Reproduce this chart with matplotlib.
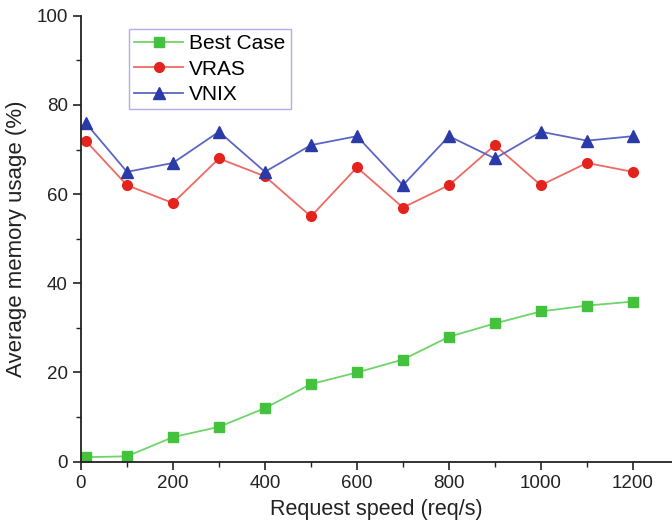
import matplotlib
matplotlib.use("Agg")
import matplotlib.pyplot as plt
from matplotlib.ticker import MultipleLocator

plt.rcParams['font.family'] = ['Liberation Sans', 'DejaVu Sans']

x = [10, 100, 200, 300, 400, 500, 600, 700, 800, 900, 1000, 1100, 1200]
best_case = [1.0, 1.2, 5.5, 7.8, 12.0, 17.4, 20.0, 22.9, 28.0, 31.0, 33.7, 35.0, 35.9]
vras = [72, 62, 58, 68, 64, 55, 66, 57, 62, 71, 62, 67, 65]
vnix = [76, 65, 67, 74, 65, 71, 73, 62, 73, 68, 74, 72, 73]

fig = plt.figure(figsize=(6.72, 5.27), dpi=100)
ax = fig.add_axes([0.1205, 0.124, 0.8795, 0.846])

ax.plot(x, best_case, color='#6fd46a', lw=1.3, marker='s', ms=6.5,
        mfc='#44c23e', mec='#44c23e', label='Best Case')
ax.plot(x, vras, color='#ee6a64', lw=1.3, marker='o', ms=7,
        mfc='#e3241d', mec='#e3241d', label='VRAS')
ax.plot(x, vnix, color='#5c66c4', lw=1.3, marker='^', ms=8,
        mfc='#2a3aa6', mec='#2a3aa6', label='VNIX')

ax.set_xlim(0, 1285)
ax.set_ylim(0, 100)
ax.xaxis.set_major_locator(MultipleLocator(200))
ax.xaxis.set_minor_locator(MultipleLocator(100))
ax.yaxis.set_major_locator(MultipleLocator(20))
ax.yaxis.set_minor_locator(MultipleLocator(10))
ax.spines['top'].set_visible(False)
ax.spines['right'].set_visible(False)
for s in ('left', 'bottom'):
    ax.spines[s].set_linewidth(1.3)
    ax.spines[s].set_color('#222222')
ax.tick_params(which='major', direction='out', length=6, width=1.2, labelsize=13.5, colors='#222222')
ax.tick_params(which='minor', direction='out', length=3.5, width=1.0, colors='#222222')

ax.set_xlabel('Request speed (req/s)', fontsize=15.5, color='#222222', labelpad=5)
ax.set_ylabel('Average memory usage (%)', fontsize=16, color='#222222', labelpad=7)

leg = ax.legend(loc='upper left', bbox_to_anchor=(0.081, 0.97), fontsize=15,
                frameon=True, fancybox=False, edgecolor='#9a9ee0', borderaxespad=0,
                handlelength=2.35, handletextpad=0.3, labelspacing=0.3, borderpad=0.25)
leg.get_frame().set_linewidth(1.0)

fig.savefig('out.png', dpi=100)
